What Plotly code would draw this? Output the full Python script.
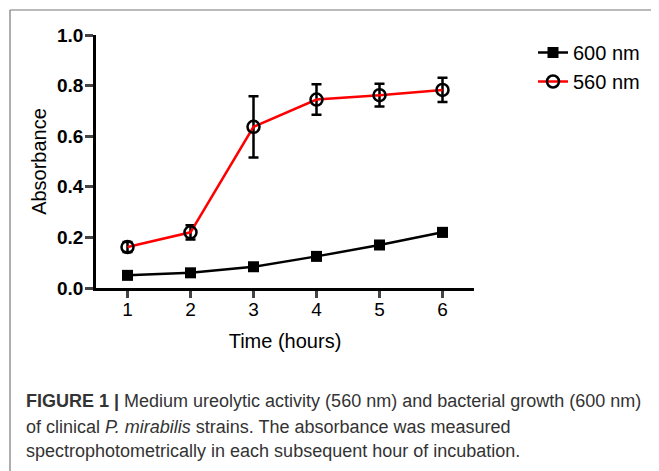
import plotly.graph_objects as go

hours = [1, 2, 3, 4, 5, 6]
abs_600 = [0.050, 0.060, 0.084, 0.125, 0.170, 0.220]
err_600 = [0.006, 0.006, 0.007, 0.008, 0.015, 0.015]
abs_560 = [0.162, 0.220, 0.637, 0.745, 0.762, 0.783]
err_560 = [0.020, 0.028, 0.121, 0.060, 0.045, 0.048]
y_ticks = [0.0, 0.2, 0.4, 0.6, 0.8, 1.0]
y_ticklabels = ["0.0", "0.2", "0.4", "0.6", "0.8", "1.0"]

FONT = "Liberation Sans, Arial, sans-serif"

# page body has an 8px default margin; plot area is placed to compensate
PX_L, PX_W, PX_T, PX_H = 96, 378, 35, 253  # plot area in window pixels
OFF = 8


def px_x(x):
    return (x - PX_L) / PX_W


def px_y(y):
    return (PX_T + PX_H - y) / PX_H


fig = go.Figure()
fig.add_trace(go.Scatter(
    x=hours, y=abs_600, name="600 nm", mode="lines+markers",
    line=dict(color="black", width=2.5),
    marker=dict(symbol="square", size=11, color="black"),
    error_y=dict(type="data", array=err_600, color="black", thickness=2.5, width=5),
))
fig.add_trace(go.Scatter(
    x=hours, y=abs_560, name="560 nm", mode="lines+markers",
    line=dict(color="#ff0000", width=2.5),
    marker=dict(symbol="circle-open", size=12, color="black", line=dict(width=2.5, color="black")),
    error_y=dict(type="data", array=err_560, color="black", thickness=2.5, width=5),
))

# Figure frame (left and top edges)
fig.add_shape(type="line", xref="paper", yref="paper", x0=px_x(10), x1=px_x(10), y0=px_y(10), y1=px_y(480),
              line=dict(color="#777777", width=1.2))
fig.add_shape(type="line", xref="paper", yref="paper", x0=px_x(10), x1=px_x(680), y0=px_y(10), y1=px_y(10),
              line=dict(color="#777777", width=1.2))

caption = [
    "<b>FIGURE 1 |</b> Medium ureolytic activity (560 nm) and bacterial growth (600 nm)",
    "of clinical <i>P. mirabilis</i> strains. The absorbance was measured",
    "spectrophotometrically in each subsequent hour of incubation.",
]
cap_y = [401, 426.5, 451]
for line, yy in zip(caption, cap_y):
    fig.add_annotation(text=line, xref="paper", yref="paper", x=px_x(24), y=px_y(yy),
                       xanchor="left", yanchor="middle", showarrow=False, align="left",
                       font=dict(family=FONT, size=18, color="#333333"))

fig.update_layout(
    width=659 - OFF, height=471 - OFF,
    margin=dict(l=PX_L - OFF, r=659 - OFF - (PX_L - OFF) - PX_W, t=PX_T - OFF,
                b=471 - OFF - (PX_T - OFF) - PX_H, autoexpand=False),
    paper_bgcolor="white", plot_bgcolor="white",
    font=dict(family=FONT, color="black"),
    showlegend=True,
    legend=dict(x=px_x(533), y=px_y(33), xanchor="left", yanchor="top",
                font=dict(family=FONT, size=20, color="black"),
                bgcolor="rgba(0,0,0,0)"),
    xaxis=dict(range=[0.5, 6.5], tickvals=hours, ticks="outside", ticklen=7, tickwidth=2.5,
               showline=True, linewidth=2.5, linecolor="black", showgrid=False, zeroline=False,
               ticklabelstandoff=-5,
               tickfont=dict(family=FONT, size=19, color="black"),
               title=dict(text="Time (hours)", font=dict(family=FONT, size=20, color="black"), standoff=16)),
    yaxis=dict(range=[0, 1.0], tickvals=y_ticks, ticktext=y_ticklabels, ticks="outside", ticklen=8,
               tickwidth=2.5, showline=True, linewidth=2.5, linecolor="black", showgrid=False,
               zeroline=False, ticklabelstandoff=-2,
               tickfont=dict(family=FONT, size=19, color="black", weight="bold"),
               title=dict(text="Absorbance", font=dict(family=FONT, size=20, color="black"), standoff=6)),
)

fig.write_html("out.html")
